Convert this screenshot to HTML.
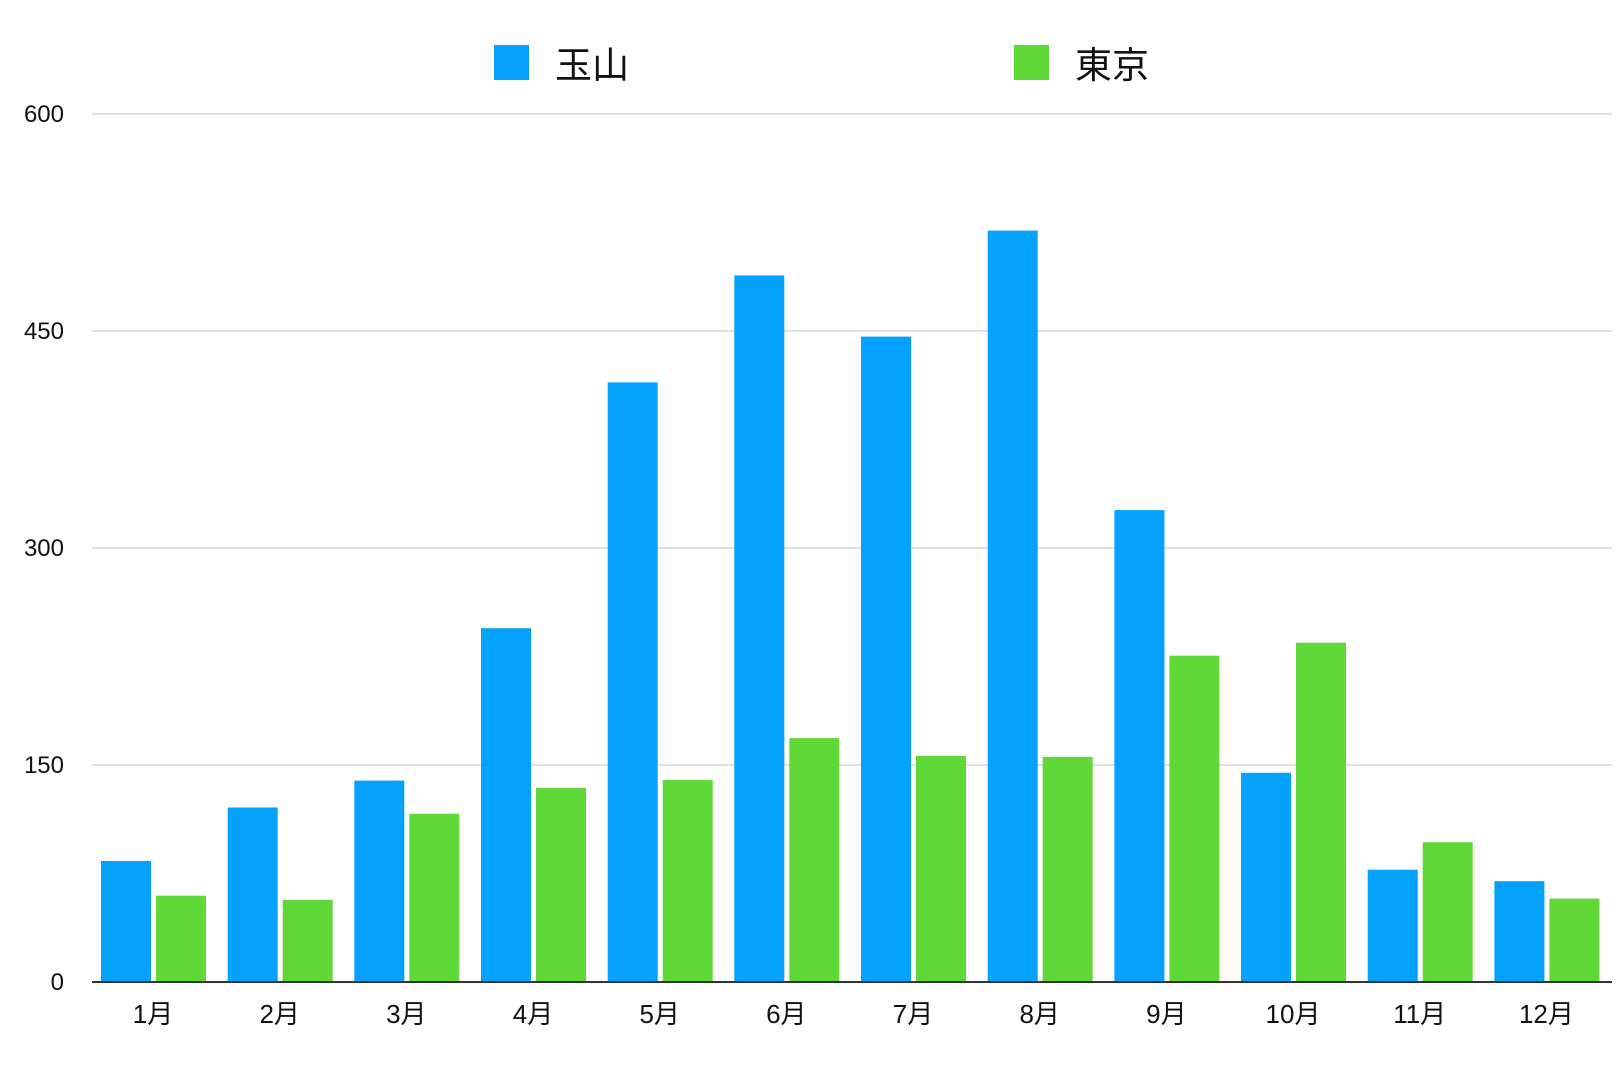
<!DOCTYPE html>
<html><head><meta charset="utf-8"><style>
html,body{margin:0;padding:0;background:#fff;}
svg{display:block;}
text{font-family:"Liberation Sans","Noto Sans CJK JP",sans-serif;fill:#111;}
</style></head><body>
<svg width="1620" height="1080" viewBox="0 0 1620 1080" xmlns="http://www.w3.org/2000/svg">
<g stroke="#cfcfcf" stroke-width="1.2">
<line x1="92" y1="114" x2="1612" y2="114"/>
<line x1="92" y1="331" x2="1612" y2="331"/>
<line x1="92" y1="548" x2="1612" y2="548"/>
<line x1="92" y1="765" x2="1612" y2="765"/>
</g>
<g font-size="24" text-anchor="end">
<text x="64" y="122">600</text>
<text x="64" y="339">450</text>
<text x="64" y="556">300</text>
<text x="64" y="773">150</text>
<text x="64" y="990">0</text>
</g>
<rect x="494" y="45" width="35" height="35" fill="#04a2fc"/>
<text x="555" y="78" font-size="37">玉山</text>
<rect x="1014" y="45" width="35" height="35" fill="#60d838"/>
<text x="1075" y="78" font-size="37">東京</text>
<g fill="#04a2fc">
<rect x="101" y="861" width="50" height="120"/>
<rect x="227.7" y="807.5" width="50" height="173.5"/>
<rect x="354.3" y="780.6" width="50" height="200.4"/>
<rect x="481" y="628.2" width="50" height="352.8"/>
<rect x="607.7" y="382.4" width="50" height="598.6"/>
<rect x="734.3" y="275.4" width="50" height="705.6"/>
<rect x="861" y="336.6" width="50" height="644.4"/>
<rect x="987.7" y="230.6" width="50" height="750.4"/>
<rect x="1114.4" y="510.1" width="50" height="470.9"/>
<rect x="1241" y="772.8" width="50" height="208.2"/>
<rect x="1367.7" y="869.7" width="50" height="111.3"/>
<rect x="1494.4" y="881.2" width="50" height="99.8"/>
</g>
<g fill="#60d838">
<rect x="156" y="895.7" width="50" height="85.3"/>
<rect x="282.7" y="900" width="50" height="81"/>
<rect x="409.3" y="813.7" width="50" height="167.3"/>
<rect x="536" y="788" width="50" height="193"/>
<rect x="662.7" y="780" width="50" height="201"/>
<rect x="789.3" y="738.1" width="50" height="242.9"/>
<rect x="916" y="755.9" width="50" height="225.1"/>
<rect x="1042.7" y="756.9" width="50" height="224.1"/>
<rect x="1169.4" y="655.7" width="50" height="325.3"/>
<rect x="1296" y="642.7" width="50" height="338.3"/>
<rect x="1422.7" y="842.2" width="50" height="138.8"/>
<rect x="1549.4" y="898.6" width="50" height="82.4"/>
</g>
<line x1="92" y1="982" x2="1612" y2="982" stroke="#333" stroke-width="2"/>
<g font-size="26" text-anchor="middle">
<text x="153" y="1023">1月</text>
<text x="279.7" y="1023">2月</text>
<text x="406.3" y="1023">3月</text>
<text x="533" y="1023">4月</text>
<text x="659.7" y="1023">5月</text>
<text x="786.3" y="1023">6月</text>
<text x="913" y="1023">7月</text>
<text x="1039.7" y="1023">8月</text>
<text x="1166.4" y="1023">9月</text>
<text x="1293" y="1023">10月</text>
<text x="1419.7" y="1023">11月</text>
<text x="1546.4" y="1023">12月</text>
</g>
</svg>
</body></html>
